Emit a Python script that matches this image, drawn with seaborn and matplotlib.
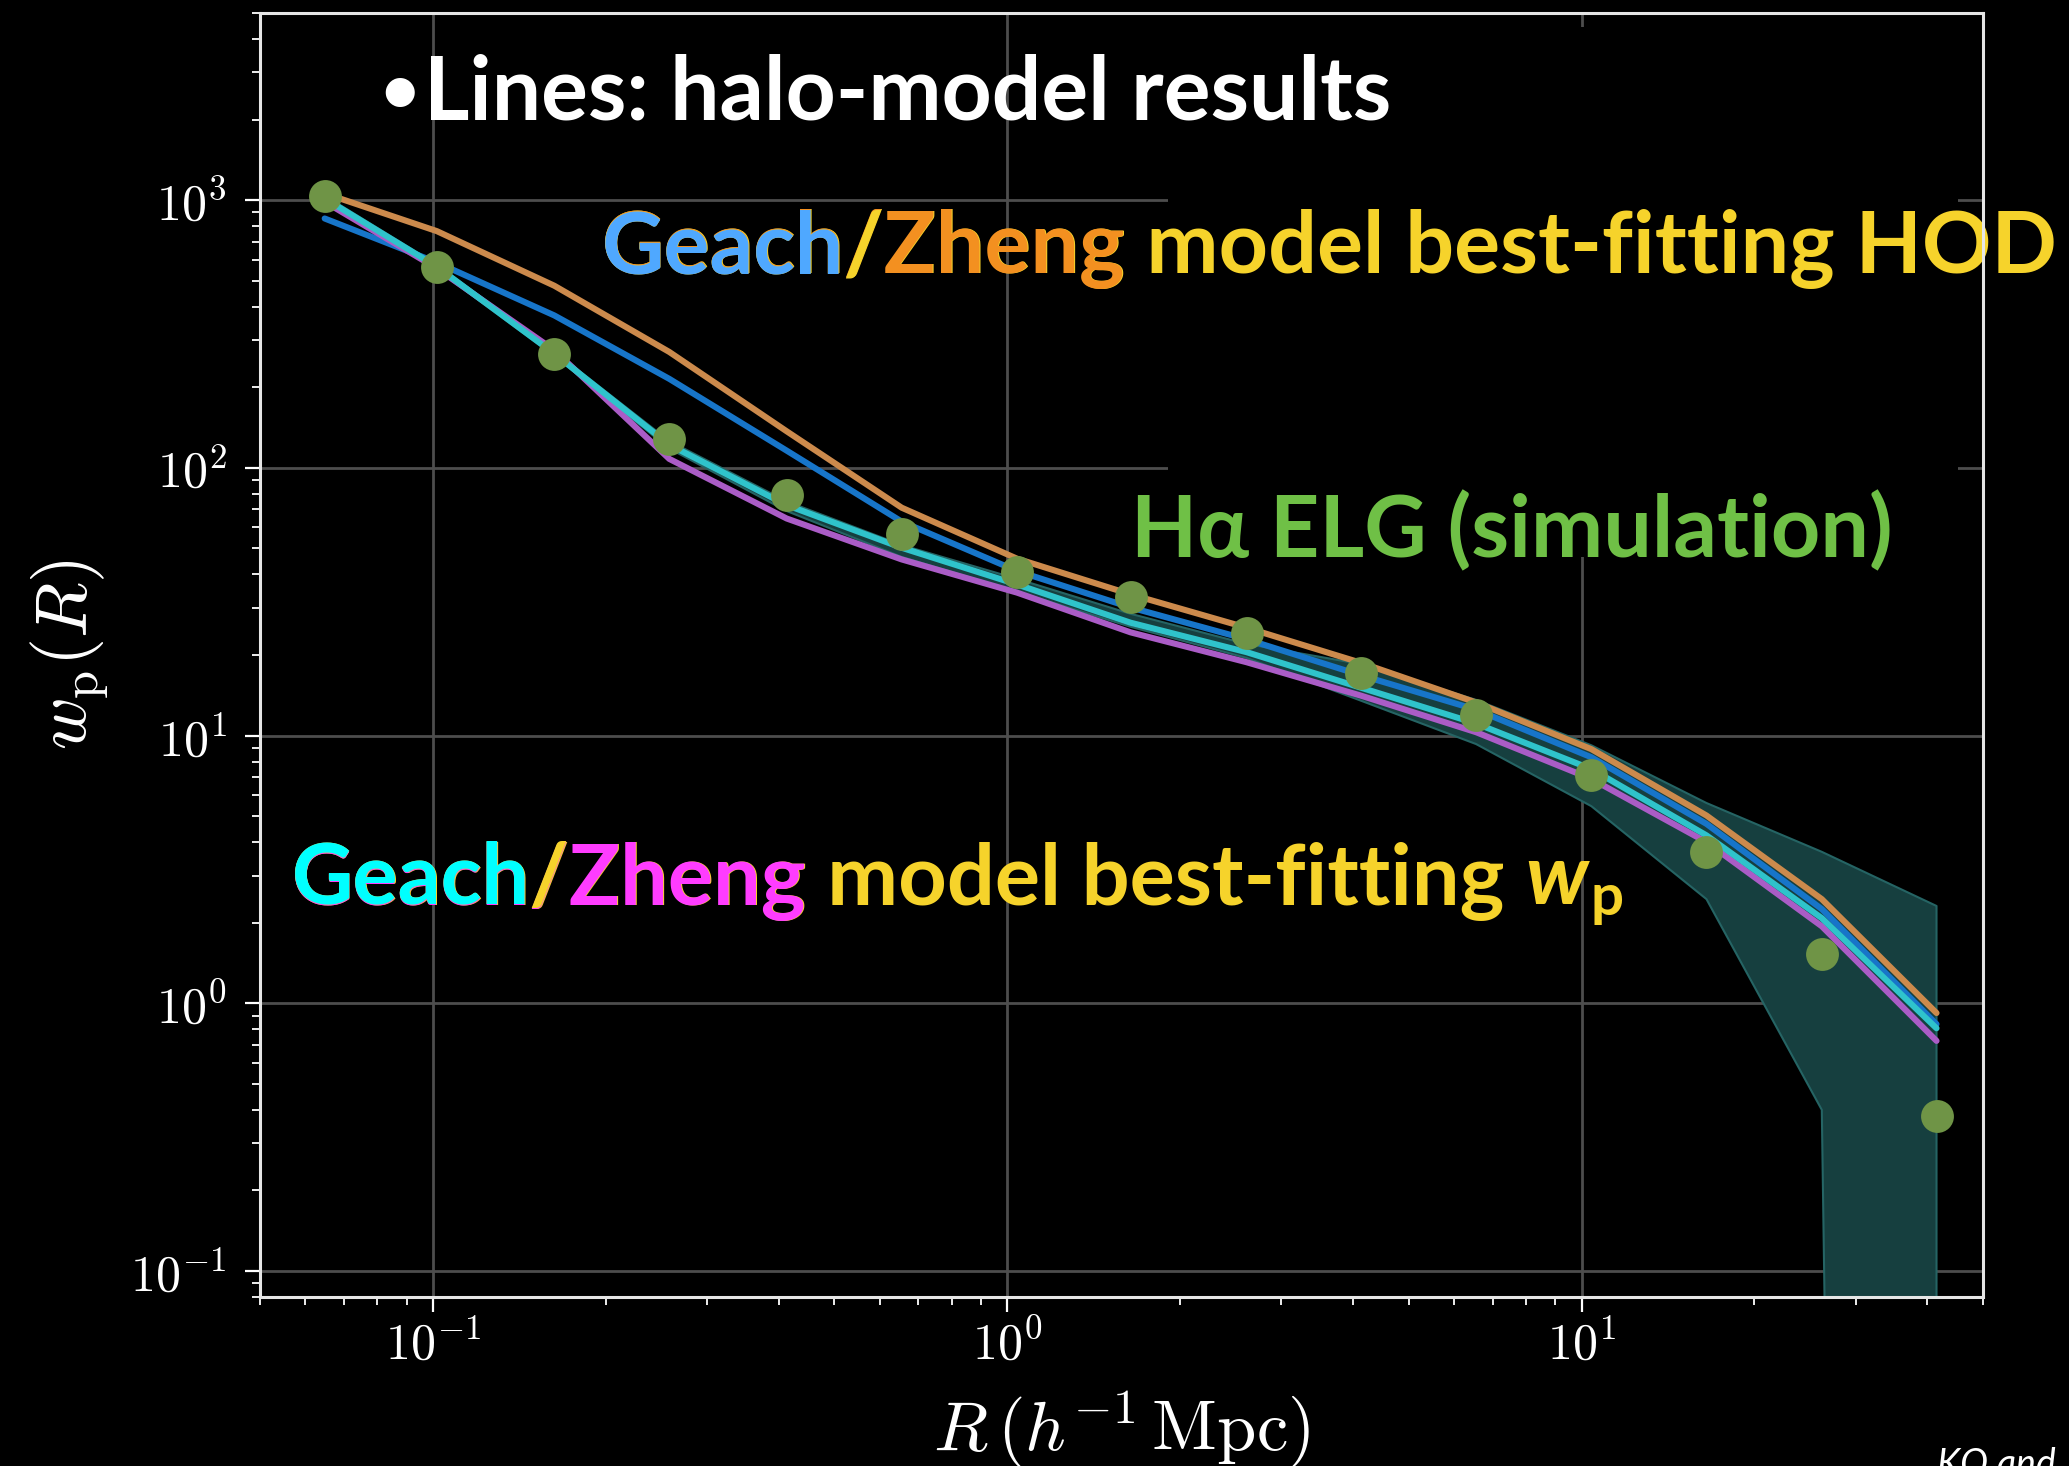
import numpy as np
import pandas as pd
import matplotlib
matplotlib.use("Agg")
import matplotlib.pyplot as plt
import matplotlib.ticker as mticker
from matplotlib.patches import Rectangle
import seaborn as sns

# projected separation, h^-1 Mpc
R = [0.0648, 0.1016, 0.1627, 0.258, 0.413, 0.655, 1.04, 1.64, 2.61, 4.13, 6.55, 10.4, 16.5, 26.2, 41.5]

# Halpha ELG w_p(R) from the simulation and the spread around it
wp_sim = [1040, 562, 266, 128, 79.5, 56.7, 41.0, 32.8, 24.2, 17.1, 11.9, 7.13, 3.66, 1.53, 0.378]
wp_sim_hi = [1040, 575, 272, 126, 75, 51.5, 38.5, 28.5, 22.0, 18.5, 13.6, 9.2, 5.6, 3.68, 2.31]
wp_sim_lo = [995, 550, 262, 118, 69, 46.5, 34.5, 25.5, 19.5, 13.5, 9.3, 5.45, 2.45, 0.40, -0.5]

# halo-model results
wp_geach_hod = [854, 585, 371, 215, 116, 63, 41.2, 30.1, 22.9, 16.8, 12.5, 8.3, 4.68, 2.25, 0.836]
wp_zheng_hod = [1060, 766, 479, 271, 137, 71, 45.8, 33.7, 25.3, 18.7, 13.3, 8.9, 5.03, 2.45, 0.92]
wp_zheng_fit = [986, 556, 275, 108, 64.7, 45.5, 34.2, 24.3, 18.8, 14.1, 10.3, 6.89, 4.0, 1.94, 0.724]
wp_geach_fit = [1015, 564, 267, 122, 72.6, 50.3, 36.7, 26.4, 20.5, 15.1, 11.1, 7.5, 4.24, 2.08, 0.807]

models = ["Geach HOD", "Zheng HOD", "Zheng wp", "Geach wp"]
line_colors = {"Geach HOD": "#1775c9", "Zheng HOD": "#cc8a4c",
               "Zheng wp": "#aa5cc6", "Geach wp": "#2fc3cb"}

lines = pd.DataFrame({
    "R": R * 4,
    "wp": wp_geach_hod + wp_zheng_hod + wp_zheng_fit + wp_geach_fit,
    "model": np.repeat(models, len(R)),
})

sns.set_theme(style="ticks", rc={
    "figure.facecolor": "black", "axes.facecolor": "black",
    "savefig.facecolor": "black",
    "axes.edgecolor": "#e6e6e6", "axes.linewidth": 2.2,
    "axes.labelcolor": "white", "text.color": "white",
    "xtick.color": "white", "ytick.color": "white",
    "grid.color": "#4d4d4d", "grid.linewidth": 2.0,
    "mathtext.fontset": "cm",
})
plt.rcParams["font.family"] = ["Lato", "DejaVu Sans"]

W, H = 2069, 1466
fig = plt.figure(figsize=(W / 100, H / 100), dpi=100)
ax = fig.add_axes([260 / W, 1 - 1297 / H, 1723 / W, 1284 / H])
ax.set_xscale("log")
ax.set_yscale("log")

ax.fill_between(R, np.clip(wp_sim_lo, 1e-30, None), wp_sim_hi,
                facecolor="#163f3f", edgecolor="#256464", lw=1.5, zorder=1.5)
sns.lineplot(data=lines, x="R", y="wp", hue="model", hue_order=models,
             palette=line_colors, lw=4.4, legend=False, errorbar=None,
             ax=ax, zorder=2)
sns.scatterplot(x=R, y=wp_sim, s=560, color="#6f9446", linewidth=0,
                ax=ax, zorder=5)

ax.set_xlim(0.05, 50)
ax.set_ylim(0.08, 5000)

def pow10(v, pos):
    return r"$10^{%d}$" % int(round(np.log10(v)))

for axis in (ax.xaxis, ax.yaxis):
    axis.set_major_locator(mticker.LogLocator(base=10, numticks=20))
    axis.set_minor_locator(mticker.LogLocator(base=10, subs=np.arange(2, 10), numticks=20))
    axis.set_major_formatter(mticker.FuncFormatter(pow10))
    axis.set_minor_formatter(mticker.NullFormatter())

ax.grid(True, which="major")
ax.grid(False, which="minor")
ax.tick_params(which="major", direction="out", length=11, width=1.6, labelsize=36)
ax.tick_params(which="minor", direction="out", length=6, width=1.3)
ax.tick_params(axis="y", which="major", pad=13)
ax.tick_params(axis="x", which="major", pad=5)

ax.set_xlabel(r"$R\,(h^{-1}\,{\rm Mpc})$", fontsize=51, labelpad=14)
ax.set_ylabel(r"$w_{\rm p}(R)$", fontsize=52, labelpad=14)

# black panel pasted over the grid behind the upper-right labels
ax.add_patch(Rectangle((0.527, 0.576), 0.4585, 0.413, transform=ax.transAxes,
                       facecolor="black", edgecolor="none", zorder=1.2))

FAM = ["Lato", "DejaVu Sans"]

def stacked_text(x, y, pieces, size):
    # draw prefixes from longest to shortest so each piece keeps its colour
    words = [p[0] for p in pieces]
    full = None
    for i in range(len(pieces) - 1, -1, -1):
        t = ax.text(x, y, "".join(words[:i + 1]), color=pieces[i][1],
                    transform=fig.transFigure, ha="left", va="baseline",
                    clip_on=False, zorder=2.4, fontsize=size,
                    fontweight="bold", family=FAM)
        if full is None:
            full = t
    return full

YEL = "#f6d32b"
ax.text(380 / W, 1 - 112 / H, "\u2022", color="white", fontsize=48, fontweight="bold",
        family=FAM, transform=fig.transFigure, va="baseline", clip_on=False, zorder=2.4)
stacked_text(424 / W, 1 - 119 / H, [("Lines: halo-model results", "white")], 63)
stacked_text(602 / W, 1 - 273 / H, [("Geach", "#4fa8ff"), ("/", YEL), ("Zheng", "#f39020"),
                                    (" model best-fitting HOD", YEL)], 62)
stacked_text(1131 / W, 1 - 557 / H, [("H\u03b1 ELG (simulation)", "#6fc046")], 62)
wp_txt = stacked_text(292 / W, 1 - 904 / H, [("Geach", "#00ffff"), ("/", YEL), ("Zheng", "#ff3cff"),
                                             (" model best-fitting", YEL)], 61)

fig.canvas.draw()
rend = fig.canvas.get_renderer()
t1 = ax.text(0, 0, "a a", transform=fig.transFigure, fontsize=61, fontweight="bold", family=FAM)
t2 = ax.text(0, 0, "aa", transform=fig.transFigure, fontsize=61, fontweight="bold", family=FAM)
space = t1.get_window_extent(rend).width - t2.get_window_extent(rend).width
t1.remove()
t2.remove()

bb = wp_txt.get_window_extent(rend)
w_txt = ax.text((bb.x1 + space) / W, 1 - 904 / H, "w", color=YEL, style="italic",
                transform=fig.transFigure, ha="left", va="baseline",
                clip_on=False, zorder=2.4, fontsize=61, fontweight="bold", family=FAM)
bw = w_txt.get_window_extent(rend)
ax.text((bw.x1 + 3) / W, 1 - 915 / H, "p", color=YEL, transform=fig.transFigure,
        ha="left", va="baseline", clip_on=False, zorder=2.4,
        fontsize=42, fontweight="bold", family=FAM)

fig.text(1937 / W, 1 - 1476 / H, "KO and", color="white", fontsize=27,
         style="italic", family=FAM)

fig.savefig("out.png", dpi=100, facecolor="black")
